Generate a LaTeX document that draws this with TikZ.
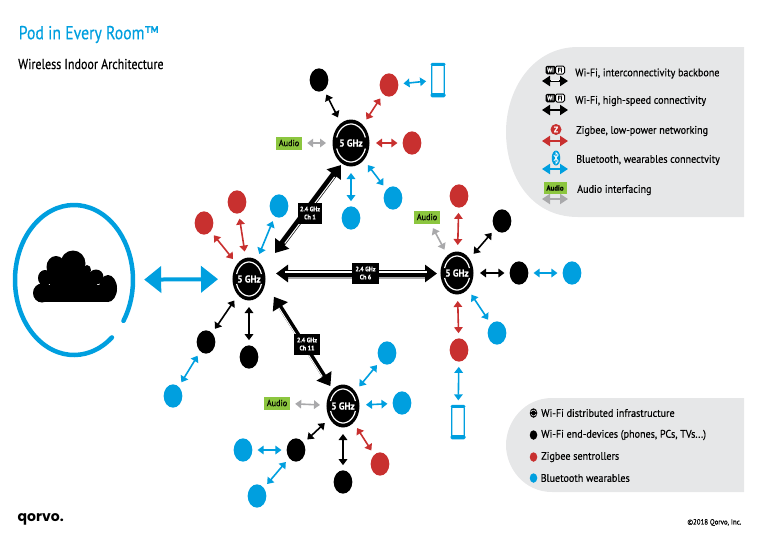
\documentclass[tikz,border=0pt]{standalone}
\usepackage{fontspec}
\setmainfont{PT Sans}[FakeStretch=0.92,FakeBold=0.35]
\newfontfamily\titlefont{PT Sans}[FakeStretch=0.84,FakeBold=0.35]
\newfontfamily\logofont{Poppins}
\usetikzlibrary{arrows.meta,calc,shapes.geometric}
\definecolor{wblue}{HTML}{009FDF}
\definecolor{zred}{HTML}{C8302F}
\definecolor{agrey}{HTML}{A9A9AB}
\definecolor{agreen}{HTML}{8CC63F}
\definecolor{panelgrey}{HTML}{E6E7E8}
\tikzset{
    pod/.style={ellipse, fill=black, text=white, minimum width=33pt, minimum height=43pt,
        inner sep=0pt, outer sep=1.5pt, font=\fontsize{10}{10}\selectfont\bfseries},
    bigpod/.style={pod, minimum width=37pt, minimum height=47pt},
    dot/.style={ellipse, minimum width=18.7pt, minimum height=23.3pt, inner sep=0pt, fill=#1},
    smalldot/.style={ellipse, minimum width=7.5pt, minimum height=9.5pt, inner sep=0pt, fill=#1},
    phone/.style={rectangle, draw=wblue, fill=white, line width=1.3pt, rounded corners=2pt,
        minimum width=12.5pt, minimum height=32pt, inner sep=0pt},
    audiobox/.style={fill=agreen, text=black, minimum width=26pt, minimum height=13pt, inner sep=0pt,
        font=\fontsize{9}{9}\selectfont},
    chanbox/.style={fill=black, text=white, align=center, inner sep=0pt, minimum width=26pt, minimum height=21pt,
        font=\fontsize{6.5}{8}\selectfont\bfseries},
    link/.style={draw=#1, line width=1.6pt, shorten >=5pt, shorten <=5pt,
        {Triangle[length=6pt,width=8.5pt]}-{Triangle[length=6pt,width=8.5pt]}},
    backbone/.style={line width=5.5pt,
        {Triangle[length=12pt,width=17pt]}-{Triangle[length=12pt,width=17pt]}},
    legendtip/.style={draw=#1, line width=2pt,
        {Triangle[length=8pt,width=10pt]}-{Triangle[length=8pt,width=10pt]}},
    legendtxt/.style={anchor=west, inner sep=0pt, font=\fontsize{11}{11}\selectfont},
    podarc/.style={draw=white, line width=1.2pt},
}
\begin{document}
\begin{tikzpicture}[x=1pt,y=-1pt]
    \useasboundingbox (0,0) rectangle (760,550);

    % panels
    \fill[panelgrey] (744,47) -- (578,47) .. controls (532,47) and (506,90) .. (506,132)
        .. controls (506,175) and (530,217) .. (578,217) -- (744,217) -- cycle;
    \fill[panelgrey] (744,398) -- (552,398) .. controls (524,398) and (506,422) .. (506,445)
        .. controls (506,468) and (524,492) .. (552,492) -- (744,492) -- cycle;

    % headings
    \node[anchor=west, inner sep=0pt, text=wblue, font=\titlefont\fontsize{18.8}{19}\selectfont] (title) at (18.5,34.5) {Pod in Every Room™};
    \node[anchor=west, inner sep=0pt, font=\titlefont\fontsize{14.3}{14}\selectfont] (subtitle) at (18,64) {Wireless Indoor Architecture};
    \node[anchor=west, inner sep=0pt, font=\logofont\fontsize{14}{14}\selectfont\bfseries] (logo) at (17.5,519) {qorvo.};
    \node[anchor=east, inner sep=0pt, font=\fontsize{7.5}{8}\selectfont] (copyright) at (741.5,522.5) {©2018 Qorvo, Inc.};

    % cloud
    \fill[black] (42,285) rectangle (108,302);
    \fill[black] (42,293) ellipse (9 and 9.5);
    \fill[black] (108,288.5) ellipse (9 and 13.5);
    \fill[black] (45,278) ellipse (7 and 8);
    \fill[black] (56,267) ellipse (9.5 and 11);
    \fill[black] (73,263.5) ellipse (12.5 and 13);
    \fill[black] (87,270) ellipse (4 and 5);
    \fill[black] (96,277) ellipse (7.5 and 7.5);
    \fill[black] (50,272) rectangle (97,290);
    \fill[black] (60,265) rectangle (85,285);

    % ring round the cloud
    \node[ellipse, minimum width=122pt, minimum height=155pt, inner sep=0pt] (cloudring) at (74,280) {};
    \draw[wblue, line width=4.5pt, line cap=round] (cloudring.center) ++({59*cos(50)},{75*sin(50)}) arc[start angle=50, end angle=393, x radius=59, y radius=75];

    % pods
    \node[pod] (poda) at (249,279) {5 GHz};
    \node[bigpod] (podb) at (351,143) {5 GHz};
    \node[pod] (podc) at (457,273) {5 GHz};
    \node[pod] (podd) at (343,406) {5 GHz};
    \foreach \p/\rx/\ry in {poda/13/17, podb/15/19, podc/13/17, podd/13/17} {
        \draw[podarc] (\p) ++({\rx*cos(197)},{\ry*sin(197)}) arc[start angle=197, end angle=343, x radius=\rx, y radius=\ry];
        \draw[podarc] (\p) ++({\rx*cos(17)},{\ry*sin(17)}) arc[start angle=17, end angle=163, x radius=\rx, y radius=\ry];
    }

    % devices round the first pod
    \node[dot=zred] (ar1) at (204,223) {};
    \node[dot=zred] (ar2) at (237,202) {};
    \node[dot=wblue] (ab1) at (279,206) {};
    \node[dot=black] (ak1) at (206,342) {};
    \node[dot=black] (ak2) at (249,357) {};
    \node[dot=wblue] (ab2) at (173,396) {};

    % devices round the top pod
    \node[dot=black] (bk1) at (319,80) {};
    \node[dot=zred] (br1) at (389,85) {};
    \node[phone] (bphone) at (438,80) {};
    \node[dot=zred] (br2) at (412,143) {};
    \node[dot=wblue] (bb1) at (393,198) {};
    \node[dot=wblue] (bb2) at (351,218) {};
    \node[audiobox] (baudio) at (289,143) {Audio};

    % devices round the right pod
    \node[dot=zred] (cr1) at (459,196) {};
    \node[dot=black] (ck1) at (502,221) {};
    \node[dot=black] (ck2) at (519,273) {};
    \node[dot=wblue] (cb1) at (572,273) {};
    \node[dot=wblue] (cb2) at (497,333) {};
    \node[dot=zred] (cr2) at (459,350) {};
    \node[phone] (cphone) at (458,422) {};
    \node[audiobox] (caudio) at (427,217) {Audio};

    % devices round the bottom pod
    \node[dot=wblue] (db1) at (387,353) {};
    \node[dot=wblue] (db2) at (402,403) {};
    \node[dot=zred] (dr1) at (380,464) {};
    \node[dot=black] (dk1) at (343,482) {};
    \node[dot=black] (dk2) at (296,450) {};
    \node[dot=wblue] (db3) at (243,450) {};
    \node[dot=wblue] (db4) at (257,496) {};
    \node[audiobox] (daudio) at (277,403) {Audio};

    % phone screens
    \foreach \p in {bphone,cphone} {
        \fill[wblue, rounded corners=1.5pt] ($(\p.north west)+(-0.6,-0.6)$) rectangle ($(\p.north east)+(0.6,2.5)$);
        \fill[wblue, rounded corners=1.5pt] ($(\p.south west)+(-0.6,-3.5)$) rectangle ($(\p.south east)+(0.6,0.6)$);
    }

    % short links
    \foreach \a/\b in {poda/ak1, poda/ak2, podb/bk1, podc/ck1, podc/ck2, podd/dk1, podd/dk2}
        \draw[link=black] (\a) -- (\b);
    \foreach \a/\b in {poda/ar1, poda/ar2, podb/br1, podb/br2, podc/cr1, podc/cr2, podd/dr1}
        \draw[link=zred] (\a) -- (\b);
    \foreach \a/\b in {poda/ab1, ak1/ab2, podb/bb1, podb/bb2, br1/bphone, ck2/cb1, podc/cb2, cr2/cphone, podd/db1, podd/db2, dk2/db3, dk2/db4}
        \draw[link=wblue] (\a) -- (\b);
    \foreach \a/\b in {podb/baudio, podc/caudio, podd/daudio}
        \draw[link=agrey] (\a) -- (\b);

    % cloud link
    \draw[wblue, line width=4pt, shorten <=9pt, shorten >=13pt,
        {Triangle[length=17pt,width=26pt]}-{Triangle[length=17pt,width=26pt]}] (cloudring) -- (poda);

    % backbone, channel 1
    \draw[backbone, line width=6.5pt, shorten <=32.5pt, shorten >=27.5pt] ([xshift=6.5pt]poda.center) -- ([xshift=6.5pt]podb.center);
    \draw[white, line width=1.1pt, shorten <=46pt, shorten >=41pt] ([shift={(8.2,1.2)}]poda.center) -- ([shift={(8.2,1.2)}]podb.center);
    % backbone, channel 6
    \draw[agrey, line width=2pt, shorten <=36pt, shorten >=30pt] ([yshift=-5pt]poda.center |- podc.center) -- ([yshift=-5pt]podc.center);
    \draw[backbone, line width=6.5pt, shorten <=27pt, shorten >=20pt] ([yshift=-0.5pt]poda.center |- podc.center) -- ([yshift=-0.5pt]podc.center);
    \draw[white, line width=1.6pt, shorten <=36pt, shorten >=30pt] ([yshift=1pt]poda.center |- podc.center) -- ([yshift=1pt]podc.center);
    % backbone, channel 11
    \draw[backbone, line width=4.5pt, shorten <=21pt, shorten >=23.6pt] ([xshift=13.7pt]poda.center) -- (podd.center);
    \draw[white, line width=1pt, shorten <=33pt, shorten >=36pt] ([shift={(12.2,0.9)}]poda.center) -- ([shift={(-1.5,0.9)}]podd.center);

    % channel labels
    \node[chanbox, minimum width=24pt] (ch1) at (310,213) {2.4 GHz\\Ch 1};
    \node[chanbox, minimum width=27pt] (ch6) at (365.5,273) {2.4 GHz\\Ch 6};
    \node[chanbox] (ch11) at (307,344) {2.4 GHz\\Ch 11};

    % top legend
    \foreach \n/\y in {k/81, j/110, r/141, b/169, g/199} {
        \coordinate (left\n) at (542,\y);
        \coordinate (right\n) at (568,\y);
    }
    \draw[legendtip=black] (leftk) -- (rightk);
    \draw[white, line width=1pt] ([shift={(9,-1)}]leftk) -- ([shift={(-9,-1)}]rightk);
    \draw[legendtip=black] (leftj) -- (rightj);
    \draw[legendtip=zred] (leftr) -- (rightr);
    \draw[legendtip=wblue] (leftb) -- (rightb);
    \draw[legendtip=agrey] (leftg) -- (rightg);
    \foreach \n/\y in {a/70, c/98} {
        \node[fill=black, text=white, rounded corners=1.5pt, minimum width=10pt, minimum height=8.5pt, inner sep=0pt,
            font=\fontsize{6.5}{6.5}\selectfont\bfseries] (wi\n) at (550.5,\y) {Wi};
        \node[draw=black, fill=white, line width=1pt, rounded corners=1.5pt, minimum width=9pt, minimum height=8pt, inner sep=0pt,
            font=\fontsize{6.5}{6.5}\selectfont\bfseries] (fi\n) at (560,\y) {Fi};
    }
    \node[circle, fill=zred, text=white, minimum size=11pt, inner sep=0pt, font=\fontsize{8}{8}\selectfont\bfseries] (zbadge) at (556,129.5) {Z};
    \node[ellipse, fill=wblue, minimum width=8.5pt, minimum height=15pt, inner sep=0pt] (btbadge) at (556,158) {};
    \draw[white, line width=0.7pt] (553.8,155) -- (558.2,161) -- (556,163.5) -- (556,152.5) -- (558.2,155) -- (553.8,161);
    \node[audiobox, minimum width=23pt, minimum height=12pt, font=\fontsize{7.5}{7.5}\selectfont\bfseries] (legaudio) at (555,188) {Audio};

    \node[legendtxt] (t1) at (575,73.5) {Wi-Fi, interconnectivity backbone};
    \node[legendtxt] (t2) at (575,101) {Wi-Fi, high-speed connectivity};
    \node[legendtxt] (t3) at (576,131) {Zigbee, low-power networking};
    \node[legendtxt] (t4) at (576,160) {Bluetooth, wearables connectvity};
    \node[legendtxt] (t5) at (577,190) {Audio interfacing};

    % bottom legend
    \node[smalldot=black] (m1) at (533.5,413) {};
    \draw[white, line width=0.5pt] (530.8,412) arc[start angle=200, end angle=340, x radius=2.8, y radius=3];
    \draw[white, line width=0.5pt] (536.2,414) arc[start angle=20, end angle=160, x radius=2.8, y radius=3];
    \node[smalldot=black] (m2) at (533.5,435) {};
    \node[smalldot=zred] (m3) at (533.5,457) {};
    \node[smalldot=wblue] (m4) at (533.5,478) {};
    \node[legendtxt] (t6) at (541,413) {Wi-Fi distributed infrastructure};
    \node[legendtxt] (t7) at (541,435) {Wi-Fi end-devices (phones, PCs, TVs...)};
    \node[legendtxt] (t8) at (541,457) {Zigbee sentrollers};
    \node[legendtxt] (t9) at (540.5,478) {Bluetooth wearables};
\end{tikzpicture}
\end{document}
